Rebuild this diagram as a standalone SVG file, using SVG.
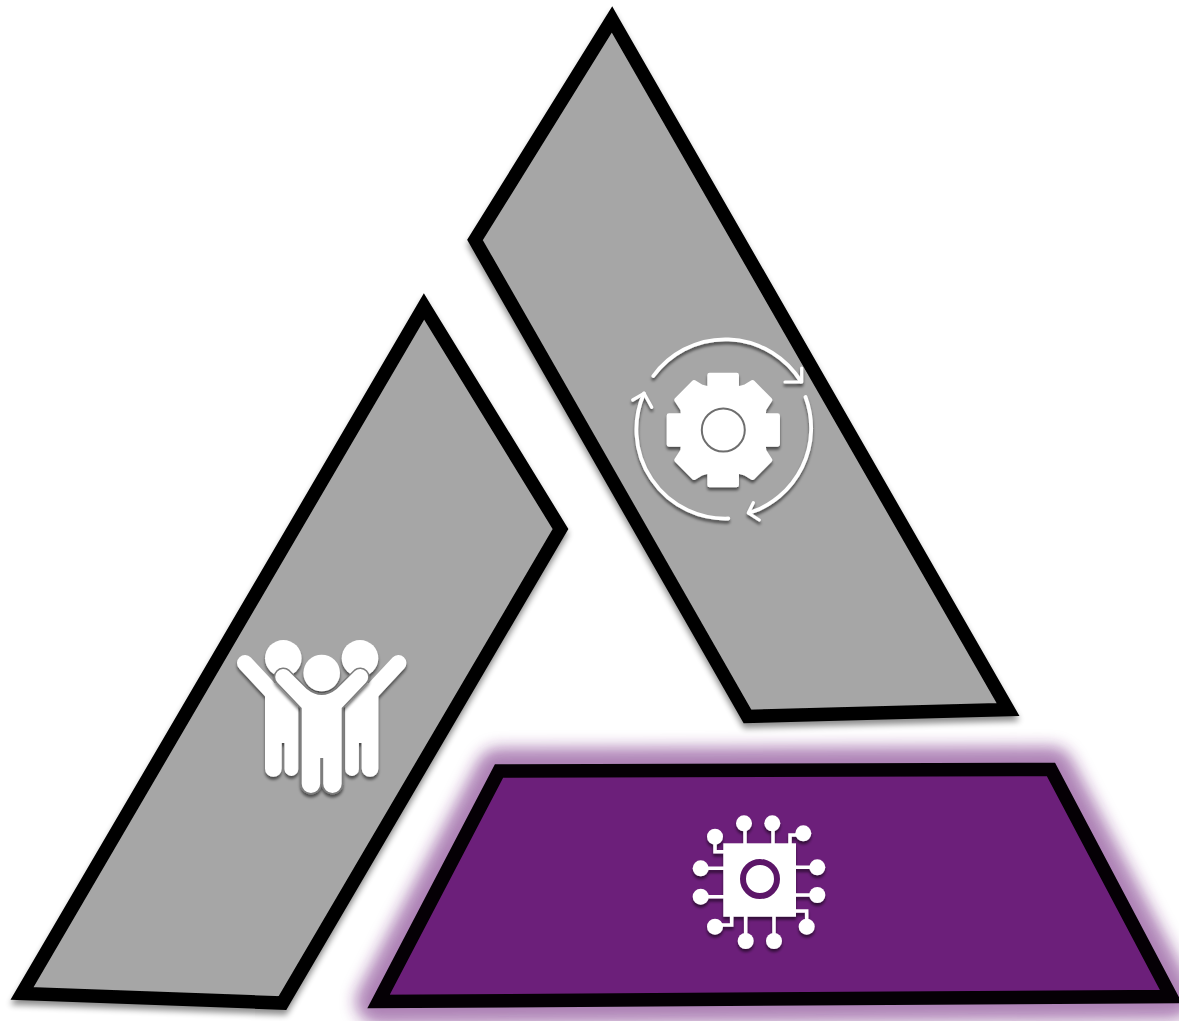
<svg xmlns="http://www.w3.org/2000/svg" width="1179" height="1021" viewBox="0 0 1179 1021">
<defs>
<filter id="sh" x="-10%" y="-10%" width="120%" height="120%"><feGaussianBlur in="SourceAlpha" stdDeviation="3"/><feOffset dx="0" dy="5"/><feComponentTransfer><feFuncA type="linear" slope="0.45"/></feComponentTransfer><feMerge><feMergeNode/><feMergeNode in="SourceGraphic"/></feMerge></filter>
<filter id="ish" x="-20%" y="-20%" width="140%" height="140%"><feGaussianBlur in="SourceAlpha" stdDeviation="1.800"/><feOffset dy="2.500"/><feComponentTransfer><feFuncA type="linear" slope="0.55"/></feComponentTransfer><feMerge><feMergeNode/><feMergeNode in="SourceGraphic"/></feMerge></filter>
<filter id="glow" x="-15%" y="-20%" width="130%" height="140%"><feGaussianBlur stdDeviation="8"/></filter>
</defs>
<style>
.g{fill:#a6a6a6;stroke:#000;stroke-width:13.500;stroke-linejoin:miter;stroke-miterlimit:8}
.p{fill:#6c1f7a;stroke:#050005;stroke-width:13.500;stroke-linejoin:miter;stroke-miterlimit:8}
.w{fill:#fff}
.l{fill:none;stroke:#fff;stroke-linecap:round;stroke-linejoin:round}
.t{fill:none;stroke:#fff;stroke-width:3.500;stroke-linejoin:miter}
</style>
<rect width="1179" height="1021" fill="#fff"/>
<g id="panel-left">
<polygon class="g" filter="url(#sh)" points="424,306.500 560.500,529 282.500,1003 22,993.500"/>
<g id="people-back" class="w" filter="url(#ish)">
<circle cx="283.300" cy="658.300" r="18.300"/><circle cx="360" cy="658.300" r="18.300"/>
<g id="person-a">
<path class="l" style="stroke-width:16" d="M245,663 L272,692"/>
<path d="M265,690 L280,680 L298.300,700 V769 A6.900,6.900 0 0 1 284.500,769 V743 H281.700 V768.500 A8.350,8.350 0 0 1 265,768.500 Z"/>
</g>
<g id="person-b" transform="matrix(-1 0 0 1 643.400 0)">
<path class="l" style="stroke-width:16" d="M245,663 L272,692"/>
<path d="M265,690 L280,680 L298.300,700 V769 A6.900,6.900 0 0 1 284.500,769 V743 H281.700 V768.500 A8.350,8.350 0 0 1 265,768.500 Z"/>
</g>
</g>
<g id="people-front" class="w" filter="url(#ish)">
<circle cx="321.700" cy="673" r="18.300"/>
<path stroke="#7d7d7d" stroke-width="3" paint-order="stroke" d="M288.500,671 L306.700,689 Q321.700,701 336.700,689 L354.900,671 A8,8 0 0 1 366,682.500 L341.700,708 V783.700 A9,9 0 0 1 323.200,783.700 V758 H320.200 V783.700 A9,9 0 0 1 301.700,783.700 V708 L277.400,682.500 A8,8 0 0 1 288.500,671 Z"/>
</g>
</g>
<g id="panel-right">
<polygon class="g" filter="url(#sh)" points="612,19.500 1008,709.500 747.500,716.500 475,240"/>
<g id="gear-cycle" filter="url(#ish)">
<g transform="translate(723.300,430) scale(0.3333)">
<path class="w" stroke="#fff" stroke-width="14" stroke-linejoin="round" d="M-41,-165 H40 V-122 L66,-130 L88,-143 L140,-90 L122,-62 L120,-43 H163 V43 H120 L122,62 L140,90 L88,143 L66,130 L40,122 V165 H-41 V122 L-66,130 L-88,143 L-140,90 L-122,62 L-120,43 H-163 V-43 H-120 L-122,-62 L-140,-90 L-88,-143 L-66,-130 L-41,-122 Z"/>
</g>
<circle cx="723.300" cy="430" r="21.500" fill="none" stroke="#6e6e6e" stroke-width="2"/>
<path class="l" stroke-width="3.800" d="M653.300,376 A89,89 0 0 1 801,381.500"/>
<path class="l" stroke-width="3.200" d="M785,382 L801.700,382 L801.700,368"/>
<path class="l" stroke-width="3.800" d="M805.500,397 A89,89 0 0 1 749,513"/>
<path class="l" stroke-width="3.200" d="M753.300,502.700 L748.300,513 L759.300,520"/>
<path class="l" stroke-width="3.800" d="M728.300,518.500 A89,89 0 0 1 644,393.500"/>
<path class="l" stroke-width="3.200" d="M632.700,400 L644,393.300 L651.700,407.300"/>
</g>
</g>
<g id="panel-bottom">
<polygon fill="#6c1f7a" stroke="#6c1f7a" stroke-width="46" stroke-linejoin="round" opacity="0.55" filter="url(#glow)" points="499,771 1051,769.500 1171,996.500 378.500,1001.500"/>
<polygon class="p" points="499,771 1051,769.500 1171,996.500 378.500,1001.500"/>
<g id="chip" class="w" filter="url(#ish)">
<rect x="723.300" y="843.300" width="72.700" height="73.400"/>
<path class="t" d="M745,825 V844 M773,825 V844 M790,844 V835 H803 M715,838 V851.700 H724 M701,868.300 H724 M701,896.700 H724 M795,867.300 H817 M795,895 H817 M795,911 H806.700 V926 M731.700,916 V925 H715 M745.700,916 V941 M774,916 V941"/>
<circle cx="744" cy="823.300" r="8"/><circle cx="772.300" cy="823.300" r="8"/><circle cx="803.300" cy="833.300" r="8"/><circle cx="715" cy="836.700" r="8"/><circle cx="700.700" cy="868.300" r="8"/><circle cx="700.700" cy="896.700" r="8"/><circle cx="817.300" cy="867.300" r="8"/><circle cx="817.300" cy="895" r="8"/><circle cx="806.700" cy="926.700" r="8"/><circle cx="715" cy="926.700" r="8"/><circle cx="745.700" cy="941" r="8"/><circle cx="774" cy="941" r="8"/>
<circle cx="760" cy="879" r="17" fill="#fff" stroke="#5c1768" stroke-width="6"/>
</g>
</g>
</svg>
